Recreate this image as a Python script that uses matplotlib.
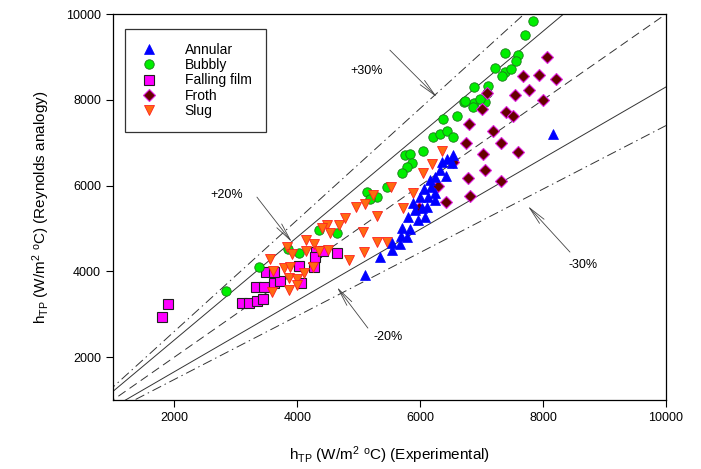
import numpy as np
import matplotlib
matplotlib.use("Agg")
import matplotlib.pyplot as plt

plt.rcParams['font.family'] = ['Liberation Sans', 'DejaVu Sans']
plt.rcParams['mathtext.fontset'] = 'custom'
plt.rcParams['mathtext.rm'] = 'Liberation Sans'
plt.rcParams['mathtext.it'] = 'Liberation Sans:italic'

# data (experimental, Reynolds analogy)
annular_x = [5102, 5346, 5536, 5536, 5671, 5683, 5780, 5699, 5834, 5801, 5964, 6078, 5915, 6024,
             6106, 5883, 5997, 6127, 6241, 6062, 6171, 6241, 6159, 6241, 6322, 6420, 6350, 6431,
             6529, 6513, 8161]
annular_y = [3914, 4333, 4497, 4660, 4636, 4823, 4807, 5009, 4986, 5266, 5196, 5273, 5429, 5476,
             5506, 5592, 5739, 5739, 5662, 5918, 5965, 5825, 6128, 6198, 6361, 6221, 6555, 6611,
             6711, 6524, 7200]

bubbly_x = [2839, 3376, 3848, 4027, 4353, 4646, 5134, 5297, 5183, 5460, 5753, 5834, 5867, 5785,
            5704, 6046, 6208, 6322, 6436, 6534, 6371, 6599, 6713, 6876, 7055, 6729, 6859, 6973,
            6876, 7104, 7087, 7217, 7380, 7331, 7478, 7380, 7592, 7559, 7706, 7836]
bubbly_y = [3541, 4100, 4520, 4427, 4963, 4893, 5848, 5732, 5685, 5965, 6711, 6734, 6524, 6431,
            6291, 6804, 7131, 7200, 7270, 7131, 7550, 7620, 7946, 7923, 7946, 7970, 7830, 8016,
            8296, 8319, 8156, 8739, 8646, 8552, 8716, 9089, 9042, 8902, 9508, 9834]

film_x = [1798, 1895, 3100, 3214, 3339, 3436, 3323, 3463, 3625, 3718, 3485, 3625, 4032, 4276,
          4060, 4299, 4288, 4423, 4646]
film_y = [2935, 3238, 3261, 3261, 3315, 3347, 3641, 3641, 3734, 3774, 3991, 3991, 4124, 4093,
          3734, 4457, 4340, 4480, 4434]

froth_x = [8064, 7673, 7934, 8210, 7771, 7543, 7999, 7087, 7006, 7396, 7510, 6794, 7185, 6745,
           7315, 7592, 7022, 7055, 6534, 6778, 7315, 6811, 6420, 5980, 6290]
froth_y = [8995, 8552, 8576, 8483, 8226, 8110, 7993, 8156, 7783, 7713, 7620, 7434, 7270, 6991,
           6991, 6781, 6734, 6361, 6548, 6175, 6105, 5755, 5615, 5476, 5988]

slug_x = [3588, 3555, 3604, 3832, 3913, 4141, 4141, 4271, 4353, 4499, 3783, 3881, 3865, 3995,
          4109, 4255, 3995, 3865, 4841, 5085, 5297, 5460, 5069, 4483, 4532, 4678, 4776, 4955,
          5102, 5232, 5297, 5525, 5720, 6355, 6192, 6046, 5883, 4402]
slug_y = [3517, 4287, 4007, 4566, 4403, 4730, 4473, 4636, 4473, 4497, 4077, 4100, 3844, 3821,
          3960, 4100, 3681, 3564, 4263, 4450, 4683, 4683, 4916, 5079, 4893, 5079, 5242, 5499,
          5569, 5779, 5289, 5965, 5476, 6804, 6501, 6291, 5825, 5009]

fig = plt.figure(figsize=(7.01, 4.69), dpi=100)
ax = fig.add_axes([0.161, 0.147, 0.789, 0.823])

# reference lines: 1:1, +/-20 %, +/-30 %
xl = np.array([0, 10000])
lc = '#333333'
ax.plot(xl, xl, color=lc, lw=0.7, dashes=(9, 5))
ax.plot(xl, 1.2 * xl, color=lc, lw=0.7)
ax.plot(xl, 0.83 * xl, color=lc, lw=0.7)
ax.plot(xl, 1.3 * xl, color=lc, lw=0.7, dashes=(10, 4, 1.5, 4))
ax.plot(xl, 0.74 * xl, color=lc, lw=0.7, dashes=(10, 4, 1.5, 4))

ax.plot(film_x, film_y, 's', ms=6.5, mfc='#ff00ff', mec='#202020', mew=0.8, label='Falling film', zorder=3)
ax.plot(bubbly_x, bubbly_y, 'o', ms=6.8, mfc='#00ee00', mec='#1a7a1a', mew=0.6, label='Bubbly', zorder=3)
ax.plot(slug_x, slug_y, 'v', ms=7.5, mfc='#ff6a10', mec='#ff2020', mew=0.6, label='Slug', zorder=4)
ax.plot(froth_x, froth_y, 'D', ms=6, mfc='#660000', mec='#e020e0', mew=0.8, label='Froth', zorder=3)
ax.plot(annular_x, annular_y, '^', ms=7.5, mfc='#0000ff', mec='#0000ff', mew=0.5, label='Annular', zorder=5)

# labels for the error bands
arr = dict(arrowstyle='->,head_length=1.3,head_width=0.22', color='#444444', lw=0.6, shrinkA=0, shrinkB=0)
ax.annotate('', xy=(6273, 8063), xytext=(5508, 9159), arrowprops=arr)
ax.text(5134, 8669, '+30%', fontsize=9, ha='center', va='center')
ax.annotate('', xy=(3913, 4683), xytext=(3344, 5732), arrowprops=arr)
ax.text(2855, 5779, '+20%', fontsize=9, ha='center', va='center')
ax.annotate('', xy=(4646, 3634), xytext=(5150, 2678), arrowprops=arr)
ax.text(5476, 2469, '-20%', fontsize=9, ha='center', va='center')
ax.annotate('', xy=(7754, 5522), xytext=(8438, 4450), arrowprops=arr)
ax.text(8650, 4147, '-30%', fontsize=9, ha='center', va='center')

ax.set_xlim(1000, 10000)
ax.set_ylim(1000, 10000)
ax.set_xticks([2000, 4000, 6000, 8000, 10000])
ax.set_yticks([2000, 4000, 6000, 8000, 10000])
ax.tick_params(direction='out', length=5, width=0.8, labelsize=9, top=False, right=False)
for s in ax.spines.values():
    s.set_linewidth(0.9)

ax.set_xlabel(r'h$_{\mathrm{TP}}$ (W/m$^{2}$ $^{\mathrm{o}}$C) (Experimental)', fontsize=11, labelpad=15)
ax.set_ylabel(r'h$_{\mathrm{TP}}$ (W/m$^{2}$ $^{\mathrm{o}}$C) (Reynolds analogy)', fontsize=11, labelpad=10)

h, l = ax.get_legend_handles_labels()
order = [4, 1, 0, 3, 2]
leg = ax.legend([h[i] for i in order], [l[i] for i in order], loc='upper left',
                bbox_to_anchor=(0.022, 0.962), fontsize=10, frameon=True, fancybox=False,
                edgecolor='black', borderpad=1.0, handletextpad=1.9, labelspacing=0.1,
                handlelength=1.4, borderaxespad=0)
leg.get_frame().set_linewidth(0.9)

fig.savefig('out.png', dpi=100)
